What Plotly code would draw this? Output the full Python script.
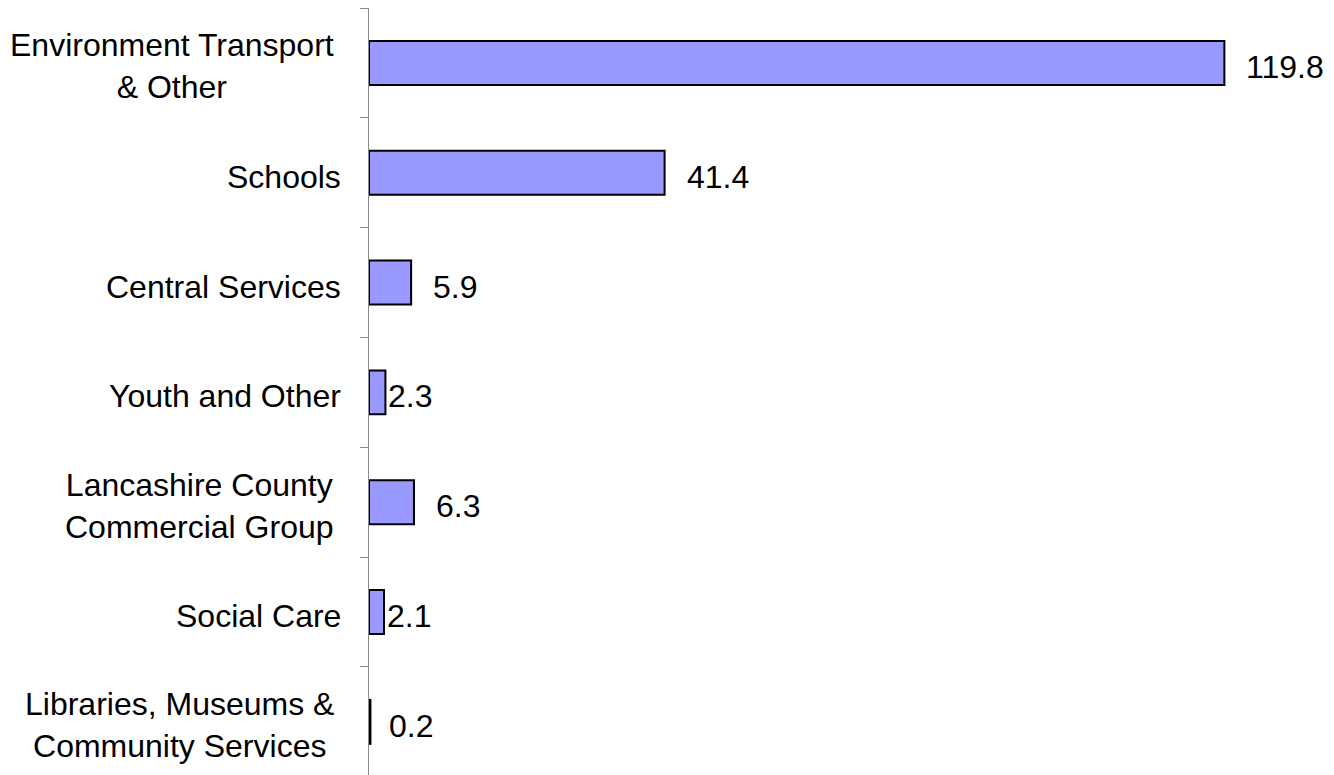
import plotly.graph_objects as go

categories = [
    "Environment Transport<br>& Other",
    "Schools",
    "Central Services",
    "Youth and Other",
    "Lancashire County<br>Commercial Group",
    "Social Care",
    "Libraries, Museums &<br>Community Services",
]
values = [119.8, 41.4, 5.9, 2.3, 6.3, 2.1, 0.2]
value_labels = ["119.8", "41.4", "5.9", "2.3", "6.3", "2.1", "0.2"]

# styling
FONT = "Liberation Sans, Arial, sans-serif"
FSIZE = 32
label_gap = [20, 20, 20, 1, 20, 1, 17]

fig = go.Figure()
fig.add_trace(go.Bar(
    x=values,
    y=list(range(len(categories))),
    orientation="h",
    width=0.4,
    marker=dict(color="#9999FF", line=dict(color="#000000", width=2)),
    hoverinfo="skip",
))

annotations = []
for i, cat in enumerate(categories):
    multi = "<br>" in cat
    annotations.append(dict(
        x=0, xref="paper", y=i, yref="y",
        text=cat, showarrow=False,
        xanchor="right", yanchor="middle", align="center",
        xshift=-33 if multi else -26, yshift=-3.5 if multi else -4,
        font=dict(family=FONT, size=FSIZE, color="#000000"),
    ))
for i, (v, t) in enumerate(zip(values, value_labels)):
    annotations.append(dict(
        x=v, xref="x", y=i, yref="y",
        text=t, showarrow=False,
        xanchor="left", yanchor="middle",
        xshift=label_gap[i], yshift=-4,
        font=dict(family=FONT, size=FSIZE, color="#000000"),
    ))

px_per_unit = 7.14
plot_w = 1334 - 369
plot_h = 775 - 7.5
band = 109.9

fig.update_layout(
    width=1334, height=775,
    margin=dict(l=369, r=0, t=7.5, b=0, pad=0),
    paper_bgcolor="white", plot_bgcolor="white",
    showlegend=False,
    annotations=annotations,
    xaxis=dict(
        range=[0, plot_w / px_per_unit],
        showgrid=False, zeroline=False, showline=False,
        showticklabels=False, ticks="",
    ),
    yaxis=dict(
        range=[-0.5 + plot_h / band, -0.5],
        tickmode="array",
        tickvals=[i - 0.5 for i in range(len(categories) + 1)],
        ticktext=[""] * (len(categories) + 1),
        showticklabels=False,
        ticks="outside", ticklen=8, tickcolor="#8a8a8a", tickwidth=1.2,
        showline=True, linecolor="#8a8a8a", linewidth=1.2,
        showgrid=False, zeroline=False,
    ),
)

fig.write_html("out.html")
